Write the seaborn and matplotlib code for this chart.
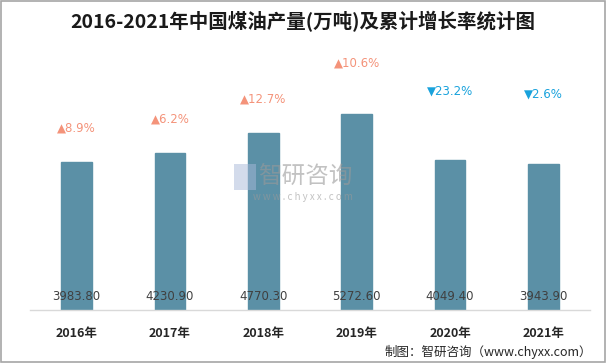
import matplotlib
matplotlib.use("Agg")
import matplotlib.pyplot as plt
import seaborn as sns
import pandas as pd
from matplotlib.patches import Rectangle

years = ["2016年", "2017年", "2018年", "2019年", "2020年", "2021年"]
output = [3983.80, 4230.90, 4770.30, 5272.60, 4049.40, 3943.90]
growth = [8.9, 6.2, 12.7, 10.6, -23.2, -2.6]
growth_offset_px = [34, 34, 34, 51, 69, 69]

sns.set_theme(style="white")
plt.rcParams['font.family'] = ['Noto Sans CJK SC', 'DejaVu Sans']

df = pd.DataFrame({"year": years, "output": output})

fig = plt.figure(figsize=(6.06, 3.63), dpi=100)
ax = fig.add_axes([30/606, (363-310)/363, 560/606, 260/363])

sns.barplot(data=df, x="year", y="output", color="#5b90a6", width=0.33,
            saturation=1, ax=ax, edgecolor="#5b90a6")

ax.set_ylim(0, 7000)
ax.set_xlim(-0.5, len(years)-0.5)
ax.set_xlabel("")
ax.set_ylabel("")
ax.set_yticks([])
for s in ["top", "right", "left"]:
    ax.spines[s].set_visible(False)
ax.spines["bottom"].set_color("#d9d9d9")
ax.spines["bottom"].set_linewidth(1)
ax.tick_params(axis="x", length=0, pad=12)
for lab in ax.get_xticklabels():
    lab.set_fontweight("bold")
    lab.set_fontsize(9)
    lab.set_color("#262626")

for i, (v, g, off) in enumerate(zip(output, growth, growth_offset_px)):
    ax.annotate(f"{v:.2f}", (i, 0), xytext=(0, 14*0.72), textcoords="offset points",
                ha="center", va="center", fontsize=8.5, color="#404040",
                family=["DejaVu Sans"])
    if g >= 0:
        txt, col = f"▲{g}%", "#f4937a"
    else:
        txt, col = f"▼{abs(g)}%", "#19a2dc"
    ax.annotate(txt, (i, v), xytext=(0, off*0.72), textcoords="offset points",
                ha="center", va="center", fontsize=8.5, color=col,
                family=["DejaVu Sans"])

fig.text(0.5, 1 - 22/363, "2016-2021年中国煤油产量(万吨)及累计增长率统计图",
         ha="center", va="center", fontsize=14, fontweight="bold", color="#1a1a1a")

fig.text(592/606, 1 - 352/363, "制图：智研咨询（www.chyxx.com）",
         ha="right", va="center", fontsize=9, color="#262626")

# watermark
fig.text(305/606, 1 - 177/363, "智研咨询", ha="center", va="center",
         fontsize=17, color="#9a9a9a", alpha=0.6)
fig.text(303/606, 1 - 197/363, "w w w . c h y x x . c o m", ha="center", va="center",
         fontsize=7, color="#9a9a9a", alpha=0.6)
fig.patches.append(Rectangle((234/606, 1 - 190/363), 22/606, 26/363,
                             transform=fig.transFigure, facecolor="#a8b8d8",
                             alpha=0.5, edgecolor="none"))

fig.patches.append(Rectangle((0.001, 0.002), 0.997, 0.995, transform=fig.transFigure,
                             facecolor="none", edgecolor="#a6a6a6", linewidth=1.2))

fig.savefig("out.png", dpi=100)
